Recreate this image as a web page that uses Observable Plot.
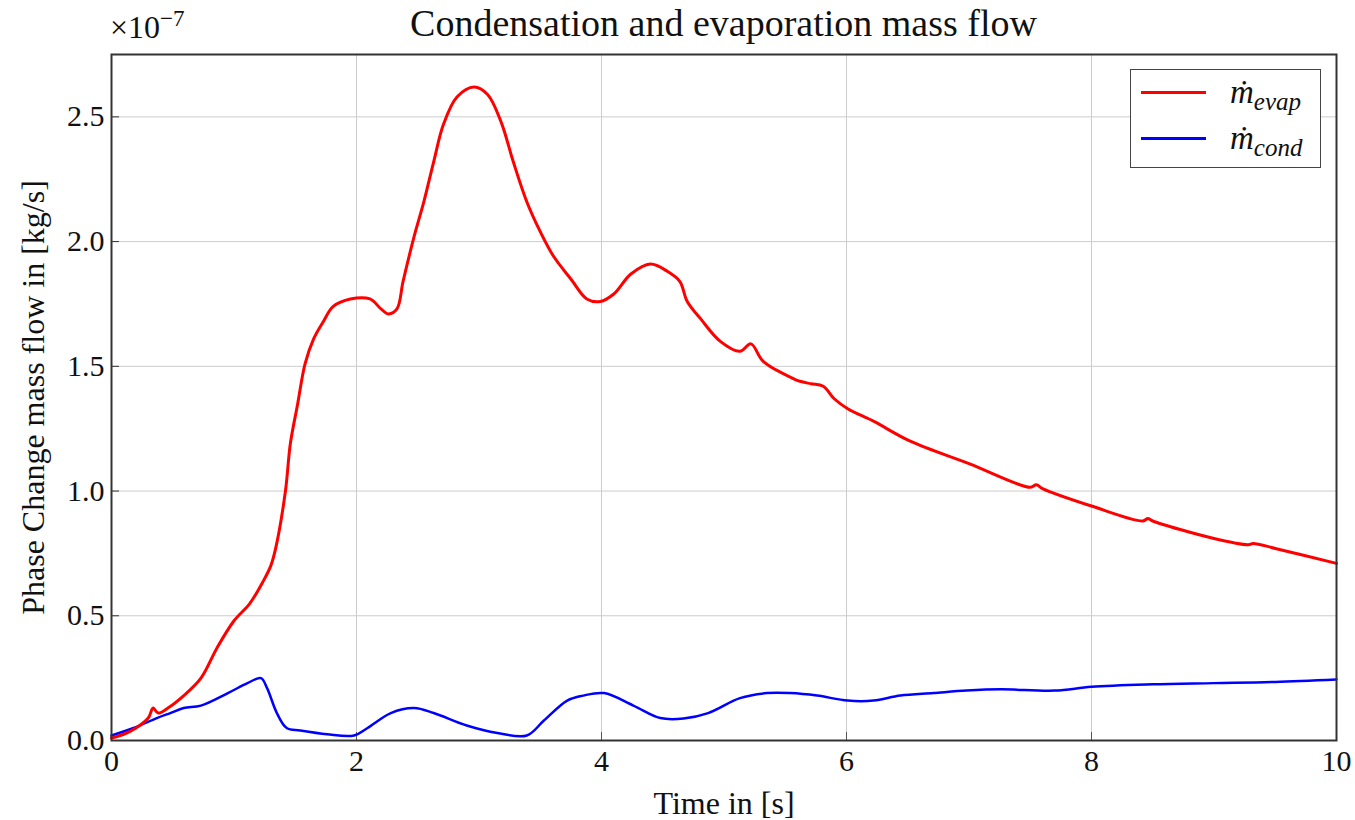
<!DOCTYPE html>
<html>
<head>
<meta charset="utf-8">
<script src="https://cdn.jsdelivr.net/npm/d3@7"></script>
<script src="https://cdn.jsdelivr.net/npm/@observablehq/plot@0.6"></script>
<style>
  body { margin: 0; background: #fff; }
  #wrap { position: relative; width: 1355px; height: 820px; font-family: "Liberation Serif", "DejaVu Serif", serif; color: #111; }
  #title { position: absolute; left: 111px; width: 1225px; top: 1px; text-align: center; font-size: 38px; }
  #expo { position: absolute; left: 110px; top: 9px; font-size: 32px; }
  #expo sup { font-size: 23px; vertical-align: 0; position: relative; top: -12px; }
  #legend { position: absolute; left: 1130px; top: 69px; width: 189px; height: 97px; border: 1.5px solid #444; background: #fff; }
  .lrow { position: absolute; left: 10px; height: 40px; display: flex; align-items: center; }
  .lline { width: 65px; height: 3px; }
  .llab { margin-left: 24px; font-size: 33px; font-style: italic; }
  .llab sub { font-size: 25px; vertical-align: 0; position: relative; top: 7px; }
</style>
</head>
<body>
<div id="wrap">
  <div id="chart"></div>
  <div id="title">Condensation and evaporation mass flow</div>
  <div id="expo">×10<sup>−7</sup></div>
  <div id="legend">
    <div class="lrow" style="top:2px"><div class="lline" id="l0"></div><div class="llab">ṁ<sub>evap</sub></div></div>
    <div class="lrow" style="top:48px"><div class="lline" id="l1"></div><div class="llab">ṁ<sub>cond</sub></div></div>
  </div>
</div>
<script>
const seriesNames = ["evap", "cond"];
const seriesColors = ["#ff0000", "#0000ff"];

const evapT = [0, 0.1, 0.2, 0.3, 0.34, 0.38, 0.46, 0.59, 0.73, 0.86, 1.0, 1.13, 1.24, 1.3, 1.34, 1.42, 1.46, 1.52, 1.58, 1.65, 1.73, 1.81, 1.95, 2.11, 2.2, 2.26, 2.33, 2.38, 2.47, 2.55, 2.63, 2.71, 2.82, 2.96, 3.07, 3.18, 3.28, 3.39, 3.5, 3.61, 3.75, 3.88, 3.99, 4.1, 4.24, 4.4, 4.54, 4.64, 4.7, 4.81, 4.97, 5.13, 5.22, 5.32, 5.57, 5.62, 5.71, 5.81, 5.9, 6.01, 6.22, 6.52, 7.0, 7.5, 7.55, 7.6, 8.0, 8.42, 8.46, 8.5, 9.0, 9.28, 9.32, 9.5, 10];
const evapV = [0.01, 0.025, 0.05, 0.09, 0.13, 0.11, 0.13, 0.18, 0.25, 0.37, 0.48, 0.55, 0.64, 0.70, 0.77, 1.0, 1.19, 1.35, 1.51, 1.61, 1.68, 1.74, 1.77, 1.77, 1.73, 1.71, 1.73, 1.84, 2.02, 2.16, 2.32, 2.47, 2.58, 2.62, 2.59, 2.48, 2.32, 2.16, 2.04, 1.94, 1.85, 1.77, 1.76, 1.79, 1.87, 1.91, 1.88, 1.84, 1.76, 1.69, 1.60, 1.56, 1.59, 1.52, 1.45, 1.44, 1.43, 1.42, 1.37, 1.33, 1.28, 1.20, 1.11, 1.015, 1.025, 1.01, 0.94, 0.88, 0.89, 0.88, 0.81, 0.785, 0.79, 0.77, 0.71];

const condT = [0, 0.18, 0.37, 0.48, 0.59, 0.73, 0.95, 1.11, 1.22, 1.27, 1.35, 1.43, 1.54, 1.76, 1.98, 2.09, 2.28, 2.47, 2.63, 2.9, 3.15, 3.39, 3.53, 3.72, 3.85, 4.02, 4.26, 4.48, 4.67, 4.87, 5.13, 5.35, 5.54, 5.76, 6.01, 6.22, 6.44, 6.71, 6.98, 7.26, 7.7, 8.0, 8.5, 9.0, 9.5, 10];
const condV = [0.02, 0.05, 0.09, 0.11, 0.13, 0.14, 0.19, 0.23, 0.25, 0.21, 0.11, 0.05, 0.04, 0.025, 0.02, 0.05, 0.11, 0.13, 0.11, 0.06, 0.03, 0.02, 0.08, 0.16, 0.18, 0.19, 0.14, 0.09, 0.088, 0.11, 0.17, 0.19, 0.19, 0.18, 0.16, 0.16, 0.18, 0.19, 0.20, 0.205, 0.20, 0.215, 0.225, 0.23, 0.235, 0.245];

const xTicks = [0, 2, 4, 6, 8, 10];
const yTicks = [0, 0.5, 1.0, 1.5, 2.0, 2.5];
const xLabel = "Time in [s]";
const yLabel = "Phase Change mass flow in [kg/s]";

const evap = evapT.map((t, i) => ({t, v: evapV[i], s: "evap"}));
const cond = condT.map((t, i) => ({t, v: condV[i], s: "cond"}));

document.getElementById("l0").style.background = seriesColors[0];
document.getElementById("l1").style.background = seriesColors[1];

const chart = Plot.plot({
  width: 1355,
  height: 820,
  marginLeft: 111,
  marginRight: 19,
  marginTop: 54,
  marginBottom: 80,
  style: {fontFamily: "Liberation Serif, DejaVu Serif, serif", fontSize: "30px", color: "#111", background: "#fff"},
  x: {domain: [0, 10]},
  y: {domain: [0, 2.75]},
  color: {domain: seriesNames, range: seriesColors},
  marks: [
    Plot.gridX(xTicks, {stroke: "#ccc", strokeOpacity: 1, strokeWidth: 1}),
    Plot.gridY(yTicks, {stroke: "#ccc", strokeOpacity: 1, strokeWidth: 1}),
    Plot.axisX(xTicks, {tickSize: -8, tickPadding: 17, tickFormat: d3.format("d"), label: null, stroke: "#555", fontSize: 30}),
    Plot.axisY(yTicks, {tickSize: -8, tickPadding: 15, tickFormat: d3.format(".1f"), label: null, stroke: "#333", fontSize: 30}),
    Plot.text([xLabel], {text: d => d, frameAnchor: "bottom", dy: 63, lineAnchor: "middle", fontSize: 32, fill: "#111"}),
    Plot.text([yLabel], {text: d => d, frameAnchor: "left", textAnchor: "middle", lineAnchor: "middle", dx: -78, rotate: -90, fontSize: 32, fill: "#111"}),
    Plot.line(cond, {x: "t", y: "v", stroke: "s", strokeWidth: 2.5, curve: "catmull-rom"}),
    Plot.line(evap, {x: "t", y: "v", stroke: "s", strokeWidth: 3, curve: "catmull-rom"}),
    Plot.frame({stroke: "#333", strokeWidth: 2})
  ]
});
document.getElementById("chart").appendChild(chart);
</script>
</body>
</html>
